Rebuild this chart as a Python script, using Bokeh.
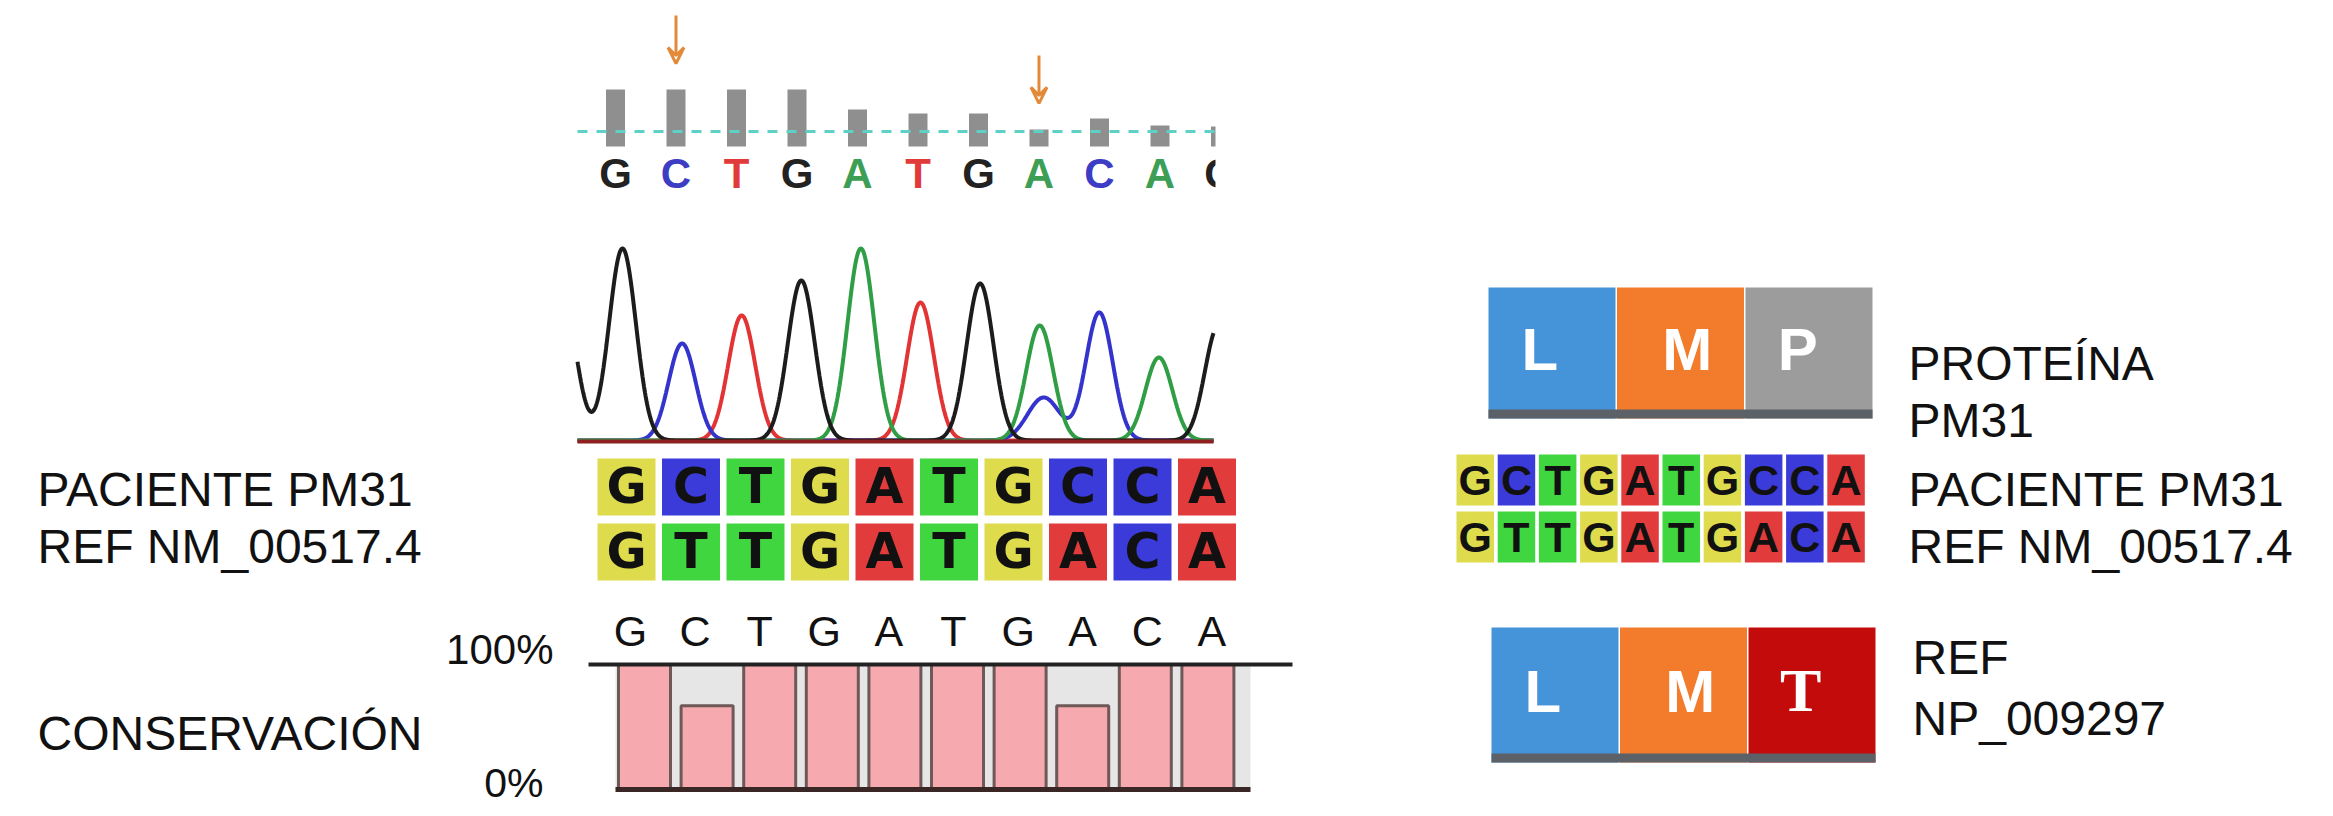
import numpy as np
from bokeh.plotting import figure
from bokeh.models import Range1d, Arrow, VeeHead
from bokeh.core.properties import value
from bokeh.embed import file_html
from bokeh.resources import INLINE

# ---------------- data ----------------
called_bases = ["G", "C", "T", "G", "A", "T", "G", "A", "C", "A", "G"]
quality = [100, 100, 100, 100, 65, 58, 58, 30, 49, 37, 35]      # % of max bar
arrow_idx = [1, 7]

peak_idx = [-1, 0, 1, 2, 3, 4, 5, 6, 7, 8, 9, 10]
peak_base = ["G", "G", "C", "T", "G", "A", "T", "G", "A", "C", "A", "G"]
peak_height = [140, 192, 97, 125, 160, 192, 138, 157, 115, 128, 83, 115]
sec_idx = [7]
sec_base = ["C"]
sec_height = [43]

patient_seq = list("GCTGATGCCA")
ref_seq = list("GTTGATGACA")

cons_letters = list("GCTGATGACA")
conservation = [100, 67, 100, 100, 100, 100, 100, 67, 100, 100]

protein_patient = ["L", "M", "P"]
protein_ref = ["L", "M", "T"]

left_labels = ["PACIENTE PM31", "REF NM_00517.4", "CONSERVACIÓN"]
right_labels = ["PROTEÍNA", "PM31", "PACIENTE PM31", "REF NM_00517.4", "REF", "NP_009297"]

# ---------------- styles ----------------
FONT = "Liberation Sans"
trace_col = {"G": "#1c1c1c", "C": "#3434cc", "T": "#e23434", "A": "#2f9e44"}
top_col = {"G": "#222222", "C": "#3c3cc4", "T": "#e03a3a", "A": "#3d9e55"}
box_col = {"G": "#dedb4c", "C": "#3b3bda", "T": "#40d640", "A": "#e23b3b"}
res_col = {"L": "#4593d9", "M": "#f27c2b", "P": "#9c9c9c", "T": "#c30b0b"}

W, H = 2333, 816
p = figure(width=W, height=H, x_range=Range1d(0, W), y_range=Range1d(H, 0),
           output_backend="svg", toolbar_location=None, min_border=0,
           x_axis_type=None, y_axis_type=None)
p.grid.visible = False
p.outline_line_color = None
p.background_fill_color = "white"
p.border_fill_color = "white"


def ty(baseline, size):
    """anchor y for a text whose visual baseline should sit at `baseline`"""
    return baseline - 0.38 * size


# ---------------- top: quality bars + called bases ----------------
TX0, TP, BW, BBASE, BMAX = 615, 60.5, 19, 146, 57
xs_top = [TX0 + i * TP for i in range(len(called_bases))]
p.quad(left=[x - BW / 2 for x in xs_top], right=[x + BW / 2 for x in xs_top],
       top=[BBASE - q / 100 * BMAX for q in quality], bottom=[BBASE] * len(quality),
       fill_color="#8f8f8f", line_color=None)
p.line([577, 1215], [131, 131], line_color="#5fd0c4", line_width=3, line_dash="10 9")
p.text(x=xs_top, y=[ty(189, 42)] * len(xs_top), text=called_bases,
       text_color=[top_col[b] for b in called_bases], text_font=value(FONT),
       text_font_style="bold", text_font_size="42px", text_align="center",
       text_baseline="alphabetic")
for i in arrow_idx:
    tip = min(BBASE - quality[i] / 100 * BMAX, 131) - 26
    p.add_layout(Arrow(end=VeeHead(size=16, line_color="#e38a3a", line_width=3, fill_color=None),
                       x_start=xs_top[i], y_start=tip - 48, x_end=xs_top[i], y_end=tip,
                       line_color="#e38a3a", line_width=3))

# ---------------- chromatogram ----------------
CX0, CP, CBASE, SIG = 622, 59.6, 440, 13.5
xg = np.arange(577, 1213.5, 0.5)
for b in ["T", "C", "A", "G"]:
    y = np.zeros_like(xg)
    for i, bb, h in zip(peak_idx, peak_base, peak_height):
        if bb == b:
            y += h * np.exp(-((xg - (CX0 + i * CP)) ** 2) / (2 * SIG ** 2))
    for i, bb, h in zip(sec_idx, sec_base, sec_height):
        if bb == b:
            y += h * np.exp(-((xg - (CX0 + i * CP + 4)) ** 2) / (2 * (SIG * 1.2) ** 2))
    p.line(xg, CBASE - y, line_color=trace_col[b], line_width=4)
p.line([577, 1213], [CBASE + 1, CBASE + 1], line_color="#8e2020", line_width=4)

# white mask clipping the partial column at right edge
p.quad(left=[1215], right=[1260], top=[80], bottom=[200], fill_color="white", line_color=None)

# ---------------- left alignment ----------------
AX0, AP, AW = 597, 64.5, 58
row_tops = [458, 523]
for r, seq in enumerate([patient_seq, ref_seq]):
    lefts = [AX0 + i * AP for i in range(len(seq))]
    p.quad(left=lefts, right=[l + AW for l in lefts], top=[row_tops[r]] * len(seq),
           bottom=[row_tops[r] + 57] * len(seq), fill_color=[box_col[b] for b in seq],
           line_color=None)
    p.text(x=[l + AW / 2 for l in lefts], y=[ty(row_tops[r] + 47, 49)] * len(seq), text=seq,
           text_color="#111111", text_font=value("DejaVu Sans"), text_font_style="bold",
           text_font_size="49px", text_align="center", text_baseline="alphabetic")

# ---------------- right alignment ----------------
RX0, RP, RW = 1456, 41.2, 37.5
rrow_tops = [454, 511]
for r, seq in enumerate([patient_seq, ref_seq]):
    lefts = [RX0 + i * RP for i in range(len(seq))]
    p.quad(left=lefts, right=[l + RW for l in lefts], top=[rrow_tops[r]] * len(seq),
           bottom=[rrow_tops[r] + 51] * len(seq), fill_color=[box_col[b] for b in seq],
           line_color=None)
    p.text(x=[l + RW / 2 for l in lefts], y=[ty(rrow_tops[r] + 42, 43)] * len(seq), text=seq,
           text_color="#111111", text_font=value(FONT), text_font_style="bold",
           text_font_size="43px", text_align="center", text_baseline="alphabetic")

# ---------------- conservation ----------------
KX0, KP, KW, KBASE, KH = 618, 62.6, 52, 789, 125
p.quad(left=[615], right=[1250], top=[KBASE - KH], bottom=[KBASE], fill_color="#e6e6e6",
       line_color=None)
klefts = [KX0 + i * KP for i in range(len(conservation))]
p.quad(left=klefts, right=[l + KW for l in klefts], top=[KBASE - c / 100 * KH for c in conservation],
       bottom=[KBASE] * len(conservation), fill_color="#f6a9ae", line_color="#6e5858", line_width=3)
p.line([588, 1292], [KBASE - KH, KBASE - KH], line_color="#222222", line_width=4)
p.line([615, 1250], [KBASE, KBASE], line_color="#3b2626", line_width=5)
p.text(x=[630 + i * 64.6 for i in range(len(cons_letters))], y=[ty(647, 43)] * len(cons_letters),
       text=cons_letters, text_color="#111111", text_font=value(FONT), text_font_size="43px",
       text_align="center", text_baseline="alphabetic")
p.text(x=[553], y=[ty(665, 42)], text=["100%"], text_color="#111111",
       text_font=value(FONT), text_font_size="42px", text_align="right", text_baseline="alphabetic")
p.text(x=[543], y=[ty(798, 41)], text=["0%"], text_color="#111111",
       text_font=value(FONT), text_font_size="41px", text_align="right", text_baseline="alphabetic")

# ---------------- protein boxes ----------------
SEGW = 128.5
letter_off = [-13, 6, -12]
for prot, x0, top, bot in [(protein_patient, 1488, 287, 418), (protein_ref, 1491, 627, 762)]:
    lefts = [x0 + i * SEGW for i in range(3)]
    p.quad(left=lefts, right=[l + SEGW - 1.5 for l in lefts], top=[top] * 3, bottom=[bot] * 3,
           fill_color=[res_col[a] for a in prot], line_color=None)
    p.quad(left=[x0], right=[x0 + 3 * SEGW - 1.5], top=[bot - 9], bottom=[bot],
           fill_color="#5c6168", line_color=None)
    for i, a in enumerate(prot):
        serif = (a == "T")
        fs = 62 if serif else 60
        p.text(x=[lefts[i] + SEGW / 2 + letter_off[i]], y=[ty((top + bot) / 2 + 19, fs)], text=[a],
               text_color="white",
               text_font=value("Liberation Serif" if serif else FONT), text_font_style="bold",
               text_font_size=f"{fs}px", text_align="center", text_baseline="alphabetic")

# ---------------- labels ----------------
p.text(x=[37, 37, 37], y=[ty(b, 48) for b in [507, 564, 751]], text=left_labels,
       text_color="#111111", text_font=value(FONT), text_font_size="48px", text_align="left",
       text_baseline="alphabetic")
p.text(x=[1908, 1908, 1908, 1908, 1912, 1912], y=[ty(b, 48) for b in [381, 438, 507, 564, 675, 736]],
       text=right_labels, text_color="#111111", text_font=value(FONT), text_font_size="48px",
       text_align="left", text_baseline="alphabetic")

open("out.html", "w").write(file_html(p, INLINE))
